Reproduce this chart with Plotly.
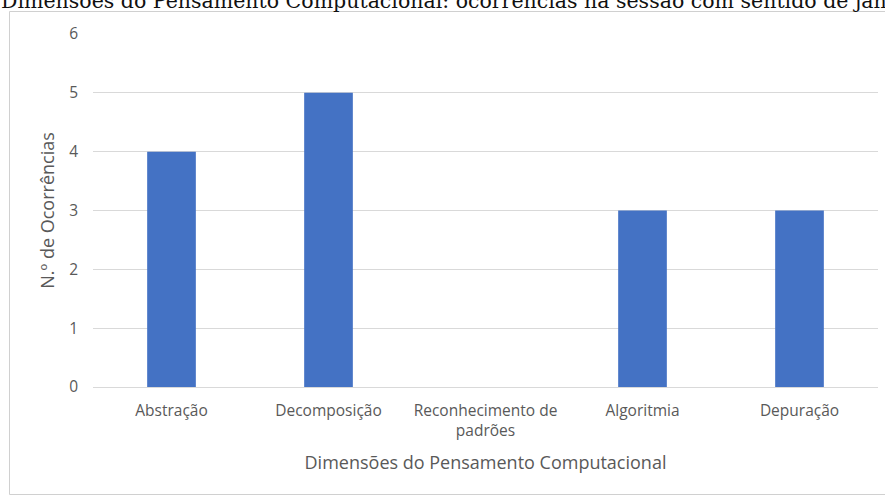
import plotly.graph_objects as go

# Dimensões do Pensamento Computacional e número de ocorrências
categorias = ["Abstração", "Decomposição", "Reconhecimento de<br>padrões", "Algoritmia", "Depuração"]
ocorrencias = [4, 5, 0, 3, 3]
y_ticks = [0, 1, 2, 3, 4, 5, 6]

titulo = "Dimensões do Pensamento Computacional: ocorrências na sessão com sentido de janela"
titulo_x = "Dimensões do Pensamento Computacional"
titulo_y = "N.º de Ocorrências"

W, H = 885, 496
L, R, T, B = 93, 7, 34, 109
pw, ph = W - L - R, H - T - B

def px_to_paper_x(px):
    return (px - L) / pw

def px_to_paper_y(py):
    return (H - B - py) / ph

fig = go.Figure(
    go.Bar(
        x=categorias,
        y=ocorrencias,
        marker=dict(color="#4472C4", line=dict(width=0)),
        width=0.31,
    )
)

grid = "#d9d9d9"
label_font = dict(family="Open Sans, sans-serif", size=15.5, color="#595959")
title_font = dict(family="Open Sans, sans-serif", size=18, color="#595959")

fig.update_layout(
    width=W,
    height=H,
    margin=dict(l=L, r=R, t=T, b=B),
    paper_bgcolor="white",
    plot_bgcolor="white",
    showlegend=False,
    xaxis=dict(
        showgrid=False,
        showline=False,
        ticks="",
        tickfont=label_font,
        ticklabelstandoff=12,
        title=dict(text=titulo_x, font=title_font, standoff=16),
    ),
    yaxis=dict(
        range=[0, 6],
        tickvals=y_ticks,
        showgrid=True,
        gridcolor=grid,
        gridwidth=1,
        zeroline=True,
        zerolinecolor=grid,
        zerolinewidth=1,
        showline=False,
        ticks="",
        tickfont=label_font,
        ticklabelstandoff=14,
        title=dict(text=titulo_y, font=title_font, standoff=9),
    ),
    shapes=[
        dict(
            type="rect",
            xref="paper", yref="paper",
            x0=px_to_paper_x(9.5), x1=px_to_paper_x(892),
            y0=px_to_paper_y(494.5), y1=px_to_paper_y(11.5),
            line=dict(color="#d0d0d0", width=1),
            fillcolor="rgba(0,0,0,0)",
            layer="below",
        )
    ],
    annotations=[
        dict(
            text=titulo,
            xref="paper", yref="paper",
            x=px_to_paper_x(-1), y=px_to_paper_y(15),
            xanchor="left", yanchor="bottom",
            showarrow=False,
            font=dict(family="DejaVu Serif, serif", size=20.5, color="#111111"),
        )
    ],
)

fig.write_html("out.html")
